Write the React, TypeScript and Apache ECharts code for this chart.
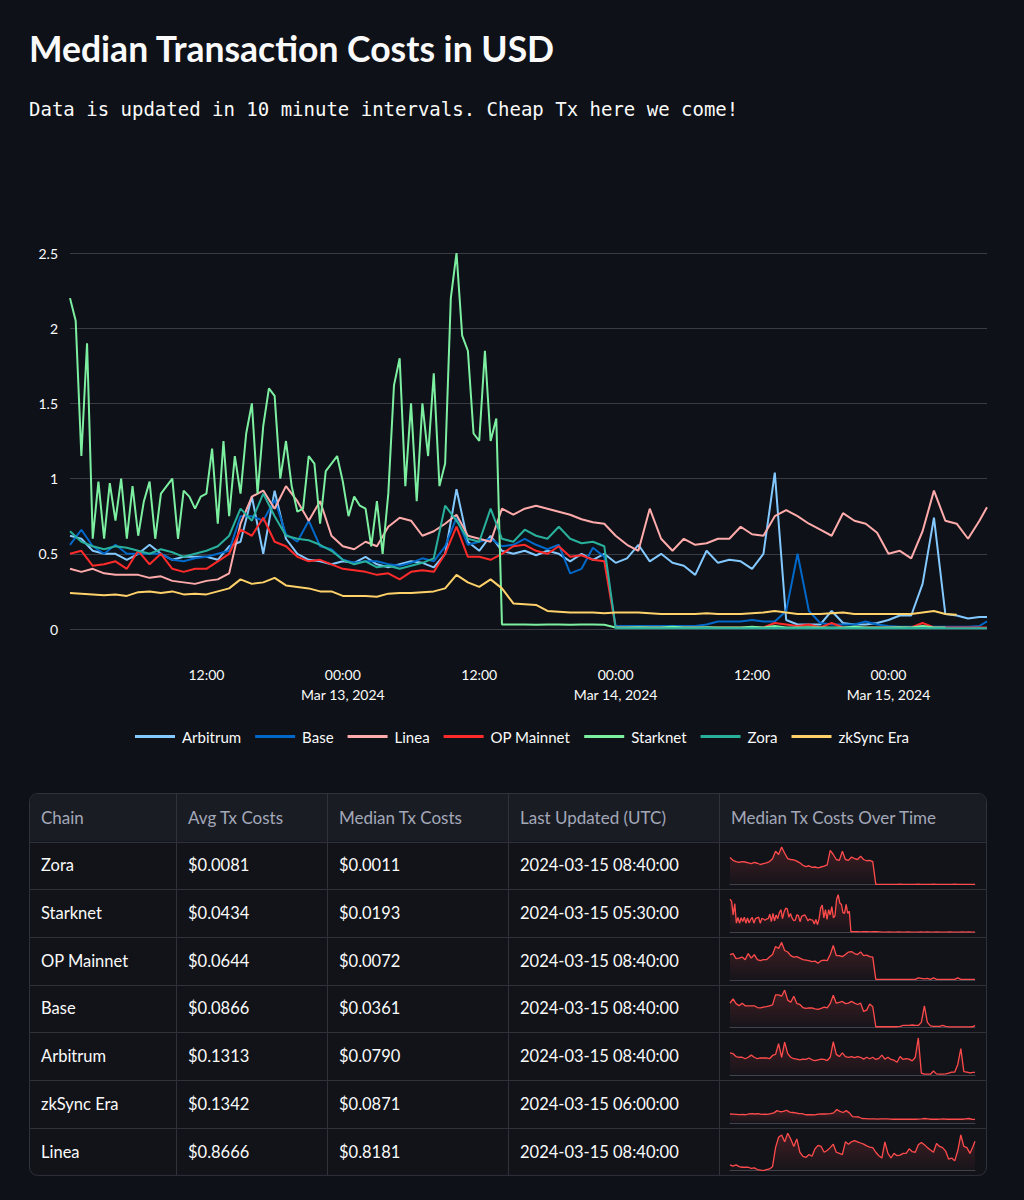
import React, { useEffect, useRef } from 'react';
import * as echarts from 'echarts';

// ---------- data ----------
const chainNames = ['Arbitrum', 'Base', 'Linea', 'OP Mainnet', 'Starknet', 'Zora', 'zkSync Era'];
const chainColors = ['#83c9ff', '#0068c9', '#ffabab', '#ff2b2b', '#7defa1', '#29b09d', '#ffd16a'];

// hours since 2024-03-12 00:00 UTC, hourly readings (h0 .. h80)
const arbitrumHourly = [
  0.62, 0.6, 0.52, 0.5, 0.5, 0.46, 0.5, 0.56, 0.5, 0.46,
  0.48, 0.48, 0.48, 0.46, 0.55, 0.58, 0.88, 0.5, 0.92, 0.6,
  0.5, 0.46, 0.45, 0.43, 0.45, 0.44, 0.48, 0.43, 0.41, 0.43,
  0.45, 0.44, 0.41, 0.5, 0.93, 0.58, 0.52, 0.62, 0.52, 0.5,
  0.52, 0.49, 0.52, 0.5, 0.45, 0.5, 0.46, 0.5, 0.44, 0.47,
  0.56, 0.45, 0.5, 0.44, 0.42, 0.36, 0.52, 0.44, 0.46, 0.45,
  0.4, 0.5, 1.04, 0.06, 0.03, 0.03, 0.03, 0.12, 0.04, 0.03,
  0.03, 0.04, 0.06, 0.09, 0.09, 0.3, 0.74, 0.1, 0.09, 0.07,
  0.08,
];
const baseHourly = [
  0.56, 0.66, 0.55, 0.5, 0.56, 0.5, 0.5, 0.5, 0.5, 0.46,
  0.45, 0.47, 0.48, 0.5, 0.52, 0.75, 0.75, 0.72, 0.86, 0.63,
  0.58, 0.72, 0.55, 0.53, 0.46, 0.44, 0.45, 0.45, 0.43, 0.42,
  0.44, 0.47, 0.45, 0.55, 0.74, 0.56, 0.58, 0.6, 0.55, 0.56,
  0.6, 0.56, 0.53, 0.56, 0.37, 0.4, 0.54, 0.48, 0.02, 0.02,
  0.02, 0.02, 0.02, 0.02, 0.02, 0.02, 0.03, 0.05, 0.05, 0.05,
  0.06, 0.05, 0.05, 0.12, 0.5, 0.12, 0.04, 0.03, 0.03, 0.03,
  0.05, 0.03, 0.02, 0.015, 0.015, 0.015, 0.015, 0.015, 0.015, 0.015,
  0.02,
];
const lineaHourly = [
  0.4, 0.38, 0.4, 0.37, 0.36, 0.36, 0.36, 0.34, 0.35, 0.32,
  0.31, 0.3, 0.32, 0.33, 0.37, 0.7, 0.88, 0.92, 0.8, 0.95,
  0.85, 0.72, 0.85, 0.62, 0.55, 0.53, 0.58, 0.55, 0.68, 0.74,
  0.72, 0.62, 0.65, 0.7, 0.76, 0.62, 0.6, 0.58, 0.8, 0.76,
  0.8, 0.82, 0.8, 0.78, 0.76, 0.73, 0.71, 0.7, 0.62, 0.56,
  0.52, 0.8, 0.6, 0.52, 0.6, 0.56, 0.57, 0.6, 0.6, 0.68,
  0.63, 0.62, 0.75, 0.79, 0.75, 0.7, 0.66, 0.62, 0.77, 0.72,
  0.7, 0.64, 0.5, 0.52, 0.47, 0.65, 0.92, 0.72, 0.7, 0.6,
  0.72,
];
const opMainnetHourly = [
  0.5, 0.52, 0.42, 0.43, 0.45, 0.4, 0.52, 0.43, 0.5, 0.4,
  0.38, 0.4, 0.4, 0.45, 0.5, 0.66, 0.62, 0.74, 0.58, 0.55,
  0.48, 0.45, 0.46, 0.43, 0.4, 0.39, 0.38, 0.36, 0.37, 0.33,
  0.38, 0.39, 0.38, 0.5, 0.68, 0.48, 0.48, 0.46, 0.5, 0.55,
  0.56, 0.52, 0.5, 0.55, 0.48, 0.49, 0.46, 0.45, 0.01, 0.01,
  0.01, 0.01, 0.01, 0.01, 0.01, 0.01, 0.01, 0.01, 0.01, 0.01,
  0.01, 0.01, 0.04, 0.03, 0.02, 0.03, 0.01, 0.04, 0.01, 0.01,
  0.01, 0.01, 0.01, 0.01, 0.01, 0.04, 0.01, 0.01, 0.01, 0.01,
  0.01,
];
// Starknet: half-hourly readings h0 .. h38, then hourly h39 .. h77
const starknetHalfHourly = [
  2.2, 2.05, 1.15, 1.9, 0.6, 0.98, 0.6, 0.97, 0.72, 1.0,
  0.6, 0.95, 0.62, 0.85, 0.98, 0.6, 0.9, 0.95, 1.0, 0.6,
  0.92, 0.88, 0.8, 0.88, 0.9, 1.2, 0.7, 1.25, 0.75, 1.15,
  0.9, 1.3, 1.5, 0.9, 1.35, 1.6, 1.55, 1.0, 1.25, 0.95,
  0.78, 0.8, 1.15, 1.1, 0.7, 1.05, 1.1, 1.15, 0.98, 0.75,
  0.88, 0.82, 0.8, 0.55, 0.85, 0.5, 0.9, 1.62, 1.8, 0.95,
  1.5, 0.85, 1.5, 1.15, 1.7, 0.95, 1.1, 2.2, 2.5, 1.95,
  1.85, 1.3, 1.25, 1.85, 1.25, 1.4, 0.03,
];
const starknetHourlyLate = [
  0.03, 0.03, 0.028, 0.03, 0.03, 0.028, 0.03, 0.03, 0.028,
  0.01, 0.01, 0.012, 0.01, 0.01, 0.015, 0.01, 0.01, 0.012, 0.01,
  0.01, 0.01, 0.015, 0.01, 0.02, 0.01, 0.01, 0.012, 0.01, 0.01,
  0.01, 0.015, 0.01, 0.01, 0.01, 0.012, 0.01, 0.02, 0.01, 0.01,
];
const zoraHourly = [
  0.65, 0.58, 0.55, 0.53, 0.55, 0.54, 0.52, 0.5, 0.53, 0.51,
  0.48, 0.5, 0.52, 0.55, 0.62, 0.8, 0.72, 0.9, 0.75, 0.62,
  0.6, 0.59, 0.56, 0.52, 0.46, 0.43, 0.45, 0.41, 0.42, 0.4,
  0.42, 0.44, 0.47, 0.82, 0.72, 0.6, 0.58, 0.8, 0.6, 0.58,
  0.66, 0.62, 0.6, 0.68, 0.6, 0.57, 0.58, 0.55, 0.005, 0.005,
  0.005, 0.005, 0.005, 0.005, 0.005, 0.005, 0.006, 0.005, 0.005, 0.005,
  0.005, 0.005, 0.006, 0.005, 0.005, 0.005, 0.005, 0.006, 0.005, 0.005,
  0.005, 0.005, 0.005, 0.005, 0.006, 0.005, 0.005, 0.005, 0.005, 0.005,
  0.005,
];
// zkSync Era: hourly h0 .. h78
const zkSyncHourly = [
  0.24, 0.235, 0.23, 0.225, 0.23, 0.22, 0.245, 0.25, 0.24, 0.25,
  0.23, 0.235, 0.23, 0.25, 0.27, 0.33, 0.3, 0.31, 0.34, 0.29,
  0.28, 0.27, 0.25, 0.25, 0.22, 0.22, 0.22, 0.215, 0.235, 0.24,
  0.24, 0.245, 0.25, 0.27, 0.36, 0.31, 0.28, 0.33, 0.27, 0.17,
  0.165, 0.16, 0.12, 0.115, 0.11, 0.11, 0.11, 0.105, 0.11, 0.11,
  0.11, 0.105, 0.1, 0.1, 0.1, 0.1, 0.105, 0.1, 0.1, 0.1,
  0.105, 0.11, 0.12, 0.11, 0.1, 0.1, 0.1, 0.105, 0.11, 0.1,
  0.1, 0.1, 0.1, 0.1, 0.1, 0.11, 0.12, 0.1, 0.095,
];
// final reading at 2024-03-15 08:40 (null = chain's data ended earlier)
const lastReadingHour = 80 + 40 / 60;
const lastReadings = [0.08, 0.05, 0.81, 0.01, null, 0.005, null];

// table
const tableChains = ['Zora', 'Starknet', 'OP Mainnet', 'Base', 'Arbitrum', 'zkSync Era', 'Linea'];
const avgTxCosts = [0.0081, 0.0434, 0.0644, 0.0866, 0.1313, 0.1342, 0.8666];
const medianTxCosts = [0.0011, 0.0193, 0.0072, 0.0361, 0.079, 0.0871, 0.8181];
const lastUpdated = [
  '2024-03-15 08:40:00', '2024-03-15 05:30:00', '2024-03-15 08:40:00', '2024-03-15 08:40:00',
  '2024-03-15 08:40:00', '2024-03-15 06:00:00', '2024-03-15 08:40:00',
];
const tableHeaders = ['Chain', 'Avg Tx Costs', 'Median Tx Costs', 'Last Updated (UTC)', 'Median Tx Costs Over Time'];

const yTicks = { min: 0, max: 2.5, step: 0.5 };
const xTickStepHours = 12;
const startUtc = Date.UTC(2024, 2, 12, 0, 0);
const monthNames = ['Jan', 'Feb', 'Mar', 'Apr', 'May', 'Jun', 'Jul', 'Aug', 'Sep', 'Oct', 'Nov', 'Dec'];

// ---------- helpers ----------
function toPairs(values: number[], startHour: number, step: number): [number, number][] {
  return values.map((v, i) => [startHour + i * step, v] as [number, number]);
}

function buildSeriesData(): [number, number][][] {
  const hourlySets = [arbitrumHourly, baseHourly, lineaHourly, opMainnetHourly, null, zoraHourly, zkSyncHourly];
  return chainNames.map((name, i) => {
    let pts: [number, number][];
    if (name === 'Starknet') {
      pts = [...toPairs(starknetHalfHourly, 0, 0.5), ...toPairs(starknetHourlyLate, 39, 1)];
    } else {
      pts = toPairs(hourlySets[i] as number[], 0, 1);
    }
    const last = lastReadings[i];
    if (last !== null) pts.push([lastReadingHour, last]);
    return pts;
  });
}

function xLabel(v: number): string {
  if (v <= 0 || Math.abs(v % xTickStepHours) > 1e-6) return '';
  const d = new Date(startUtc + v * 3600000);
  const hh = String(d.getUTCHours()).padStart(2, '0') + ':00';
  if (d.getUTCHours() === 0) {
    return `${hh}\n${monthNames[d.getUTCMonth()]} ${d.getUTCDate()}, ${d.getUTCFullYear()}`;
  }
  return hh;
}

const FONT = 'Lato, "Noto Sans", sans-serif';
const MONO = '"DejaVu Sans Mono", "Liberation Mono", monospace';

function buildOption() {
  const seriesData = buildSeriesData();

  const grids: any[] = [{ left: 70, top: 253, width: 917, height: 376 }];
  const xAxes: any[] = [{
    gridIndex: 0, type: 'value', min: 0, max: lastReadingHour, interval: xTickStepHours,
    axisLine: { show: false }, axisTick: { show: false }, splitLine: { show: false },
    axisLabel: {
      formatter: xLabel, color: '#fafafa', fontSize: 14, fontFamily: FONT, margin: 35,
      lineHeight: 20, showMinLabel: false, showMaxLabel: false,
    },
  }];
  const yAxes: any[] = [{
    gridIndex: 0, type: 'value', min: yTicks.min, max: yTicks.max, interval: yTicks.step,
    axisLine: { show: false }, axisTick: { show: false },
    splitLine: { lineStyle: { color: '#393b45', width: 1 } },
    axisLabel: { color: '#fafafa', fontSize: 14, fontFamily: FONT, margin: 12 },
  }];

  const series: any[] = chainNames.map((name, i) => ({
    name, type: 'line', xAxisIndex: 0, yAxisIndex: 0, data: seriesData[i],
    showSymbol: false, symbol: 'none', clip: false,
    lineStyle: { color: chainColors[i], width: 2 }, itemStyle: { color: chainColors[i] },
  }));

  // table geometry
  const tLeft = 29.5, tRight = 986.5, tTop = 793.5, headerH = 48, rowH = 47.7;
  const tBottom = tTop + headerH + rowH * tableChains.length;
  const colX = [29.5, 176.5, 327.5, 508.5, 719.5];
  const graphics: any[] = [];
  graphics.push({
    type: 'rect', shape: { x: tLeft, y: tTop, width: tRight - tLeft, height: tBottom - tTop, r: 8 },
    style: { fill: '#111319', stroke: '#30323b', lineWidth: 1 }, z: -10,
  });
  graphics.push({
    type: 'rect', shape: { x: tLeft + 0.5, y: tTop + 0.5, width: tRight - tLeft - 1, height: headerH - 0.5, r: [8, 8, 0, 0] },
    style: { fill: '#1a1c24' }, z: -9,
  });
  for (let r = 0; r < tableChains.length; r++) {
    const y = Math.round(tTop + headerH + r * rowH) + 0.5;
    graphics.push({ type: 'line', shape: { x1: tLeft, y1: y, x2: tRight, y2: y }, style: { stroke: '#30323b', lineWidth: 1 }, z: -8 });
  }
  for (let c = 1; c < colX.length; c++) {
    graphics.push({ type: 'line', shape: { x1: colX[c], y1: tTop, x2: colX[c], y2: tBottom }, style: { stroke: '#30323b', lineWidth: 1 }, z: -8 });
  }
  tableHeaders.forEach((h, c) => {
    graphics.push({
      type: 'text', x: colX[c] + 11.5, y: tTop + headerH / 2,
      style: { text: h, fill: '#a3a8b8', fontSize: 17, fontFamily: FONT, align: 'left', verticalAlign: 'middle' },
    });
  });
  tableChains.forEach((chain, r) => {
    const cy = tTop + headerH + r * rowH + rowH / 2;
    const cells = [chain, '$' + avgTxCosts[r].toFixed(4), '$' + medianTxCosts[r].toFixed(4), lastUpdated[r]];
    cells.forEach((txt, c) => {
      graphics.push({
        type: 'text', x: colX[c] + 11.5, y: cy,
        style: { text: txt, fill: '#fafafa', fontSize: 16.5, fontFamily: FONT, align: 'left', verticalAlign: 'middle' },
      });
    });
    // sparkline
    const gi = r + 1;
    const si = chainNames.indexOf(chain);
    const rowTop = tTop + headerH + r * rowH;
    grids.push({ left: 730, top: rowTop + 5.5, width: 245, height: 37.5 });
    xAxes.push({
      gridIndex: gi, type: 'value', min: 0, max: 'dataMax',
      axisLine: { show: true, onZero: false, lineStyle: { color: '#3f424c', width: 1 } },
      axisTick: { show: false }, axisLabel: { show: false }, splitLine: { show: false },
    });
    yAxes.push({
      gridIndex: gi, type: 'value', show: false, scale: true,
      min: chain === 'Linea' ? 'dataMin' : 0,
      max: chain === 'zkSync Era' ? 1 : 'dataMax',
      splitLine: { show: false },
    });
    series.push({
      type: 'line', xAxisIndex: gi, yAxisIndex: gi, data: seriesData[si], silent: true,
      showSymbol: false, symbol: 'none',
      lineStyle: { color: '#ff4b4b', width: 1.3 },
      areaStyle: {
        origin: 'start',
        color: new echarts.graphic.LinearGradient(0, 0, 0, 1, [
          { offset: 0, color: 'rgba(255,75,75,0.28)' },
          { offset: 1, color: 'rgba(255,75,75,0.03)' },
        ]),
      },
    });
  });

  return {
    animation: false,
    backgroundColor: '#0e1117',
    title: [
      {
        text: 'Median Transaction Costs in USD', left: 29, top: 30, padding: 0,
        textStyle: { color: '#fafafa', fontSize: 35.5, fontWeight: 'bold', fontFamily: FONT },
      },
      {
        text: 'Data is updated in 10 minute intervals. Cheap Tx here we come!', left: 29, top: 99, padding: 0,
        textStyle: { color: '#fafafa', fontSize: 19, fontWeight: 'normal', fontFamily: MONO },
      },
    ],
    legend: {
      data: chainNames, left: 130, top: 724, icon: 'rect', itemWidth: 40, itemHeight: 3, itemGap: 14,
      textStyle: { color: '#fafafa', fontSize: 15, fontFamily: FONT, padding: [0, 0, 0, 2] },
    },
    grid: grids,
    xAxis: xAxes,
    yAxis: yAxes,
    series,
    graphic: graphics,
  };
}

export default function App() {
  const ref = useRef<HTMLDivElement>(null);
  useEffect(() => {
    document.body.style.margin = '0';
    document.body.style.background = '#0e1117';
    const chart = echarts.init(ref.current as HTMLDivElement, null, { renderer: 'svg' });
    chart.setOption(buildOption() as any);
    return () => chart.dispose();
  }, []);
  return <div ref={ref} style={{ width: 1024, height: 1200, background: '#0e1117' }} />;
}
